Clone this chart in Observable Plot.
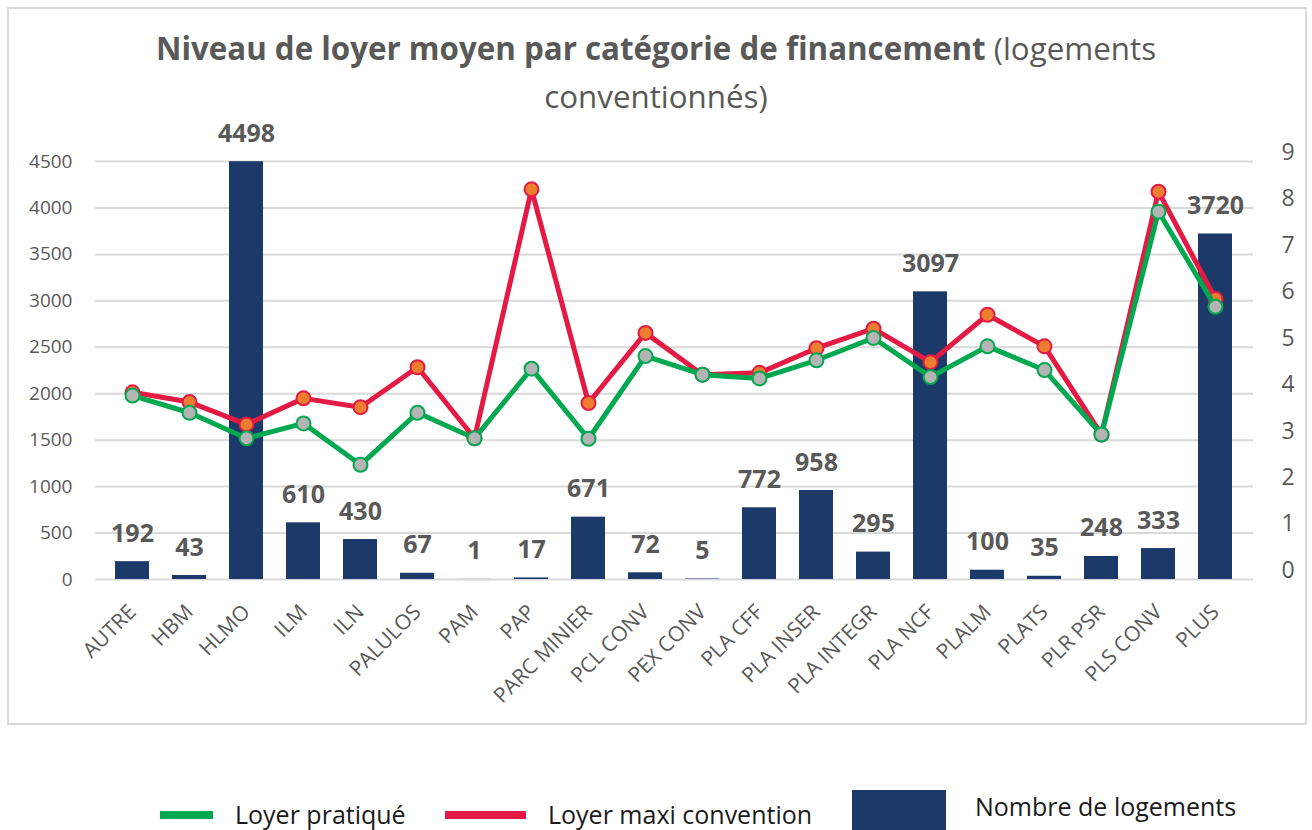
<!DOCTYPE html>
<html>
<head>
<meta charset="utf-8">
<script src="https://cdn.jsdelivr.net/npm/d3@7"></script>
<script src="https://cdn.jsdelivr.net/npm/@observablehq/plot@0.6"></script>
<style>
  html, body { margin: 0; padding: 0; background: #fff; }
  #page { position: relative; width: 1312px; height: 830px; font-family: "Open Sans", sans-serif; }
  #frame { position: absolute; left: 7px; top: 7px; width: 1296px; height: 714px; border: 2px solid #d9d9d9; }
  #title { position: absolute; left: 0; top: 24px; width: 1312px; text-align: center; color: #595959; font-size: 31.3px; line-height: 48px; }
  #title b { font-weight: 700; }
  #chart { position: absolute; left: 0; top: 0; }
  .lg { position: absolute; }
  .lgtext { position: absolute; font-size: 25px; line-height: 32px; color: #1a1a1a; white-space: nowrap; }
</style>
</head>
<body>
<div id="page">
  <div id="frame"></div>
  <div id="chart"></div>
  <div id="title"><b>Niveau de loyer moyen par catégorie de financement</b> (logements<br>conventionnés)</div>
  <div class="lg" style="left:160px; top:811px; width:53px; height:8px; background:#00a84f;"></div>
  <div class="lgtext" style="left:235px; top:798px;">Loyer pratiqué</div>
  <div class="lg" style="left:445px; top:811px; width:81px; height:8px; background:#e31b44;"></div>
  <div class="lgtext" style="left:548px; top:798px;">Loyer maxi convention</div>
  <div class="lg" style="left:852px; top:790px; width:94px; height:40px; background:#1b3969;"></div>
  <div class="lgtext" style="left:975px; top:790px;">Nombre de logements</div>
</div>
<script>
const categories = ["AUTRE","HBM","HLMO","ILM","ILN","PALULOS","PAM","PAP","PARC MINIER","PCL CONV","PEX CONV","PLA CFF","PLA INSER","PLA INTEGR","PLA NCF","PLALM","PLATS","PLR PSR","PLS CONV","PLUS"];
const logements = [192,43,4498,610,430,67,1,17,671,72,5,772,958,295,3097,100,35,248,333,3720];
const loyerPratique = [3.96,3.59,3.04,3.36,2.47,3.59,3.04,4.54,3.03,4.81,4.41,4.33,4.72,5.20,4.36,5.02,4.51,3.12,7.92,5.87];
const loyerMaxi = [4.03,3.82,3.34,3.90,3.71,4.57,3.04,8.40,3.80,5.31,4.41,4.45,4.98,5.40,4.68,5.70,5.02,3.12,8.35,6.04];
const leftTicks = [0,500,1000,1500,2000,2500,3000,3500,4000,4500];
const rightTicks = [0,1,2,3,4,5,6,7,8,9];

const K = 500; // right axis (0-9) mapped onto left axis (0-4500)
const data = categories.map((c, i) => ({cat: c, n: logements[i], prat: loyerPratique[i], maxi: loyerMaxi[i]}));

const chart = Plot.plot({
  width: 1312,
  height: 720,
  marginTop: 161,
  marginBottom: 141,
  marginLeft: 95,
  marginRight: 59,
  style: {fontFamily: "'Open Sans', sans-serif", background: "transparent"},
  x: {domain: categories, paddingInner: 0.4, paddingOuter: 0.2},
  y: {domain: [0, 4500]},
  marks: [
    Plot.gridY(leftTicks, {stroke: "#d9d9d9", strokeOpacity: 1, strokeWidth: 2}),
    Plot.barY(data, {x: "cat", y: "n", fill: "#1b3969"}),
    Plot.text(data, {x: "cat", y: "n", text: d => String(d.n), dy: -28, fontWeight: "bold", fontSize: 25, fill: "#595959"}),
    Plot.line(data, {x: "cat", y: d => d.maxi * K, stroke: "#e31b44", strokeWidth: 5}),
    Plot.dot(data, {x: "cat", y: d => d.maxi * K, r: 7, fill: "#ed7d31", stroke: "#e31b44", strokeWidth: 2}),
    Plot.line(data, {x: "cat", y: d => d.prat * K, stroke: "#00a84f", strokeWidth: 5}),
    Plot.dot(data, {x: "cat", y: d => d.prat * K, r: 7, fill: "#b4b4b4", stroke: "#00a84f", strokeWidth: 2}),
    Plot.axisY(leftTicks, {anchor: "left", tickSize: 0, tickPadding: 23, tickFormat: d => String(d), fontSize: 19, fill: "#595959", label: null}),
    Plot.axisY(rightTicks.map(v => v * K), {anchor: "right", tickSize: 0, tickPadding: 28, tickFormat: d => String(d / K), dy: -9, fontSize: 23, fill: "#595959", label: null}),
    Plot.axisX({tickRotate: -45, tickSize: 0, tickPadding: 29, fontSize: 21, fill: "#595959", label: null})
  ]
});
document.getElementById("chart").appendChild(chart);
</script>
</body>
</html>
